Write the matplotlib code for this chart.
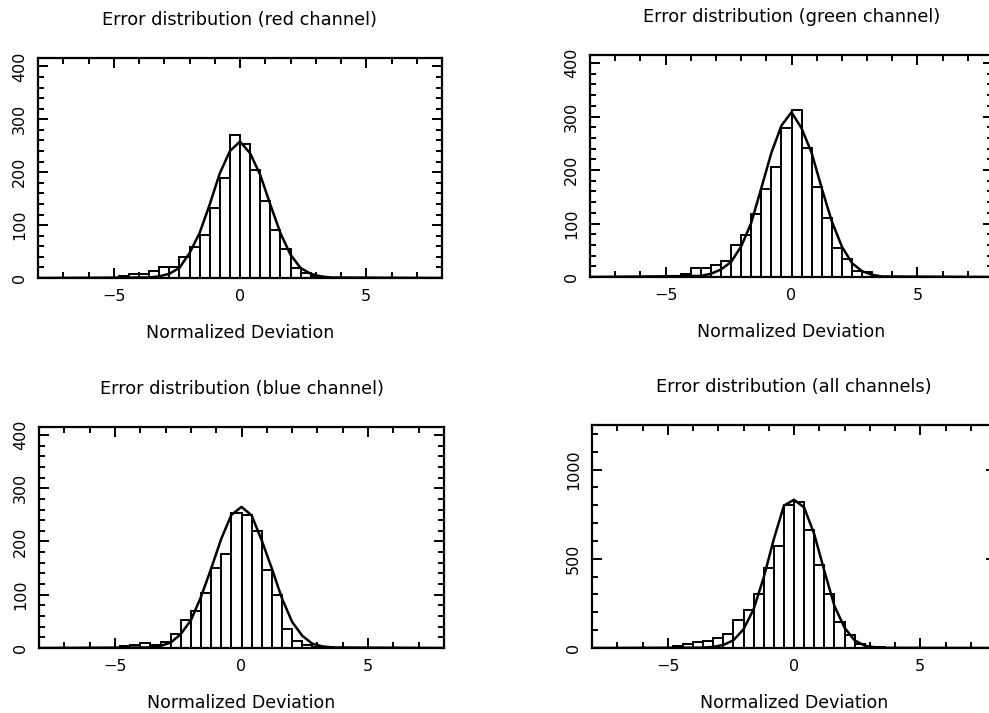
import matplotlib as mpl
mpl.use('Agg')
import matplotlib.pyplot as plt
from matplotlib.ticker import MultipleLocator

# histogram bins (left edges, width 0.4)
bin_lo = [-4.8, -4.4, -4.0, -3.6, -3.2, -2.8, -2.4, -2.0, -1.6, -1.2, -0.8,
          -0.4, 0.0, 0.4, 0.8, 1.2, 1.6, 2.0, 2.4, 2.8, 3.2]
bin_width = 0.4

red_counts = [3, 8, 8, 14, 20, 20, 39, 59, 82, 132, 189,
              271, 253, 204, 146, 91, 54, 18, 9, 3, 0]
green_counts = [2, 6, 16, 16, 23, 29, 60, 79, 118, 164, 205,
                278, 313, 241, 168, 110, 55, 34, 11, 9, 0]
blue_counts = [4, 6, 9, 6, 11, 26, 52, 70, 103, 150, 176,
               254, 250, 220, 147, 99, 36, 14, 5, 2, 2]
all_counts = [11, 21, 34, 39, 54, 77, 155, 212, 305, 451, 573,
              803, 816, 663, 464, 305, 146, 73, 21, 8, 3]

# gaussian fit curves
fit_x = [-8.0, -3.6, -3.2, -2.8, -2.4, -2.0, -1.6, -1.2, -0.8, -0.4, 0.0,
         0.4, 0.8, 1.2, 1.6, 2.0, 2.4, 2.8, 3.2, 3.6, 8.0]
red_fit = [0, 1, 3, 8, 19, 47, 85, 139, 198, 240, 258,
           236, 195, 139, 85, 44, 19, 8, 3, 1, 0]
green_fit = [0, 2, 6, 14, 28, 57, 101, 166, 232, 283, 308,
             278, 232, 166, 104, 57, 26, 11, 4, 1, 0]
blue_fit = [0, 1, 4, 10, 26, 52, 96, 149, 205, 250, 265,
            249, 202, 149, 93, 49, 23, 8, 3, 1, 0]
all_fit = [0, 2, 6, 17, 43, 105, 217, 395, 610, 798, 831,
           788, 639, 433, 236, 114, 43, 13, 4, 1, 0]

panels = [
    ("Error distribution (red channel)", red_counts, red_fit, 416, 100, 20,
     [38, 58, 442, 278]),
    ("Error distribution (green channel)", green_counts, green_fit, 415, 100, 20,
     [590, 55, 993, 277]),
    ("Error distribution (blue channel)", blue_counts, blue_fit, 415, 100, 20,
     [39, 427, 444, 648]),
    ("Error distribution (all channels)", all_counts, all_fit, 1250, 500, 100,
     [592, 425, 996, 648]),
]

W, H = 989, 713
plt.rcParams['font.family'] = 'DejaVu Sans'
fig = plt.figure(figsize=(W / 100, H / 100), dpi=100)

for title, counts, fit, ymax, ymaj, ymin, box in panels:
    x0, y0, x1, y1 = box
    ax = fig.add_axes([x0 / W, 1 - y1 / H, (x1 - x0) / W, (y1 - y0) / H])
    ax.bar(bin_lo, counts, width=bin_width, align='edge', color='white',
           edgecolor='black', linewidth=1.4, zorder=2)
    ax.plot(fit_x, fit, color='black', linewidth=1.8, zorder=3)
    ax.set_xlim(-8, 8)
    ax.set_ylim(0, ymax)
    ax.xaxis.set_major_locator(MultipleLocator(5))
    ax.xaxis.set_minor_locator(MultipleLocator(1))
    ax.yaxis.set_major_locator(MultipleLocator(ymaj))
    ax.yaxis.set_minor_locator(MultipleLocator(ymin))
    ax.tick_params(which='both', direction='in', top=True, right=True,
                   width=1.4, labelsize=11.5)
    ax.tick_params(which='major', length=7)
    ax.tick_params(which='minor', length=4)
    ax.tick_params(axis='x', pad=8)
    ax.tick_params(axis='y', pad=8)
    for lab in ax.get_yticklabels():
        lab.set_rotation(90)
        lab.set_va('center')
    for s in ax.spines.values():
        s.set_linewidth(1.6)
    ax.set_title(title, fontsize=12.8, pad=24)
    ax.set_xlabel("Normalized Deviation", fontsize=12.5, labelpad=14)

fig.savefig("out.png", dpi=100)
